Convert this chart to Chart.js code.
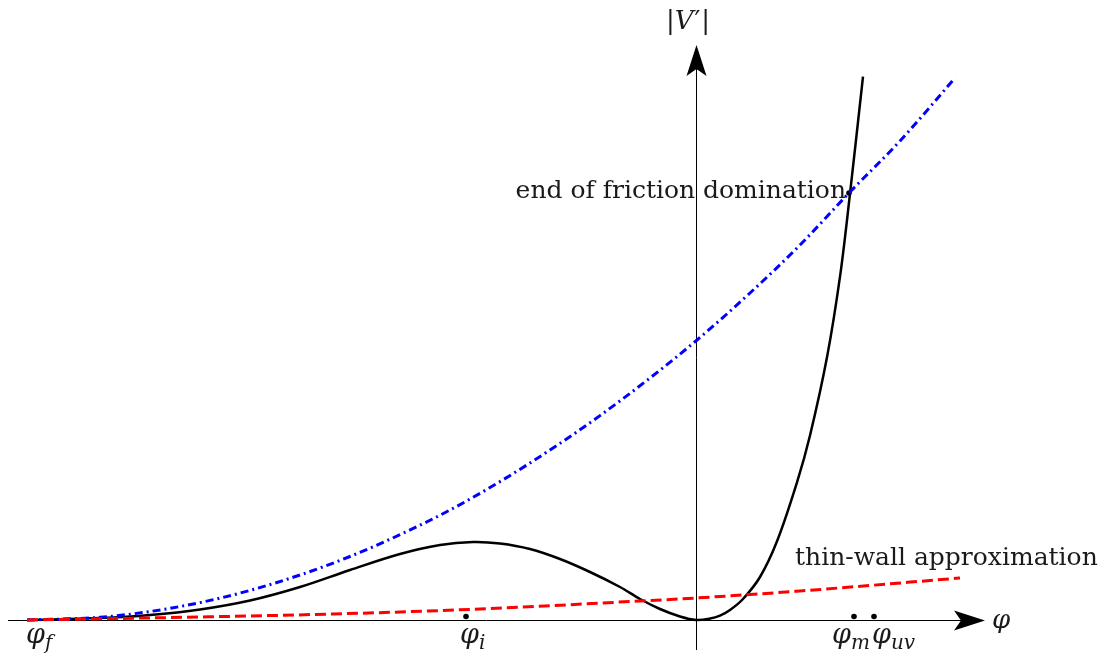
<!DOCTYPE html>
<html>
<head>
<meta charset="utf-8">
<script src="https://cdn.jsdelivr.net/npm/chart.js@4"></script>
<style>
  html, body { margin: 0; padding: 0; background: #fff; }
  #wrap { width: 1109px; height: 653px; position: relative; }
</style>
</head>
<body>
<div id="wrap"><canvas id="c"></canvas></div>
<script>
// ---- data (schematic units: phi horizontal, |V'| vertical) ----
const potPhi = [-6.69, -5.96, -5.46, -4.96, -4.46, -3.96, -3.46, -2.96, -2.56, -2.23, -1.96, -1.66, -1.36, -1.06, -0.76, -0.56, -0.36, -0.16, 0, 0.14, 0.24, 0.34, 0.47, 0.64, 0.81, 1.01, 1.14, 1.31, 1.44, 1.54, 1.67];
const potV   = [0, 0.02, 0.05, 0.105, 0.195, 0.33, 0.50, 0.66, 0.75, 0.78, 0.765, 0.71, 0.61, 0.48, 0.33, 0.21, 0.11, 0.035, 0, 0.014, 0.044, 0.10, 0.21, 0.43, 0.787, 1.377, 1.845, 2.627, 3.433, 4.263, 5.433];

const frictionPhi = [-6.69, -5.96, -5.46, -4.96, -4.46, -3.96, -3.46, -2.96, -2.46, -1.96, -1.46, -0.96, -0.46, 0.01, 0.54, 1.04, 1.53, 2.04, 2.59];
const frictionV   = [0, 0.027, 0.085, 0.174, 0.296, 0.45, 0.635, 0.853, 1.10, 1.384, 1.70, 2.044, 2.42, 2.80, 3.27, 3.75, 4.27, 4.79, 5.42];

const thinPhi = [-6.69, -4.96, -3.63, -2.16, -0.56, 0, 1.04, 2.64];
const thinV   = [0, 0.03, 0.06, 0.11, 0.19, 0.22, 0.29, 0.42];

const markNames = ["φ_f", "φ_i", "φ_m", "φ_uv"];
const markPhi   = [-6.69, -2.30, 1.58, 1.78];
const crossPoint = [1.53, 4.27];

const xRange = [-6.96, 4.13];
const yRange = [-0.33, 6.20];
const xAxisSpan = [-6.88, 2.89];
const yAxisSpan = [-0.30, 5.75];

const zip = (a, b) => a.map((v, i) => ({ x: v, y: b[i] }));

const SERIF = '"DejaVu Serif", "Liberation Serif", serif';

function drawMath(ctx, base, sub, x, y, size) {
  ctx.save();
  ctx.textAlign = 'left';
  ctx.textBaseline = 'alphabetic';
  ctx.font = 'italic ' + size + 'px ' + SERIF;
  ctx.fillText(base, x, y);
  const w = ctx.measureText(base).width;
  if (sub) {
    ctx.font = 'italic ' + Math.round(size * 0.74) + 'px ' + SERIF;
    ctx.fillText(sub, x + w, y + size * 0.22);
  }
  ctx.restore();
}

const schematic = {
  id: 'schematic',
  beforeDatasetsDraw(chart) {
    const { ctx, scales: { x, y } } = chart;
    const x0 = Math.round(x.getPixelForValue(0)) + 0.5, y0 = Math.round(y.getPixelForValue(0)) + 0.5;
    ctx.save();
    ctx.strokeStyle = '#000';
    ctx.fillStyle = '#000';
    ctx.lineWidth = 1;
    const xl = x.getPixelForValue(xAxisSpan[0]), xr = x.getPixelForValue(xAxisSpan[1]);
    ctx.beginPath(); ctx.moveTo(xl, y0); ctx.lineTo(xr - 20, y0); ctx.stroke();
    const yb = y.getPixelForValue(yAxisSpan[0]), yt = y.getPixelForValue(yAxisSpan[1]);
    ctx.beginPath(); ctx.moveTo(x0, yb); ctx.lineTo(x0, yt + 20); ctx.stroke();
    ctx.beginPath();
    ctx.moveTo(xr, y0); ctx.lineTo(xr - 31, y0 - 10); ctx.lineTo(xr - 24, y0); ctx.lineTo(xr - 31, y0 + 10); ctx.closePath();
    ctx.fill();
    ctx.beginPath();
    ctx.moveTo(x0, yt); ctx.lineTo(x0 - 10, yt + 31); ctx.lineTo(x0, yt + 24); ctx.lineTo(x0 + 10, yt + 31); ctx.closePath();
    ctx.fill();
    ctx.restore();
  },
  afterDatasetsDraw(chart) {
    const { ctx, scales: { x, y } } = chart;
    const x0 = x.getPixelForValue(0), y0 = y.getPixelForValue(0);
    ctx.save();
    ctx.fillStyle = '#1a1a1a';
    ctx.textBaseline = 'alphabetic';
    ctx.textAlign = 'left';
    // |V'|
    const up = '26px ' + SERIF, it = 'italic 26px ' + SERIF;
    ctx.font = up; const barW = ctx.measureText('|').width; const prW = ctx.measureText('′').width;
    ctx.font = it; const vW = ctx.measureText('V').width;
    const total = barW * 2 + vW + prW + 2;
    let sx = x0 - 8 - total / 2;
    ctx.font = up; ctx.fillText('|', sx, 29); sx += barW;
    ctx.font = it; ctx.fillText('V', sx, 29); sx += vW + 1;
    ctx.font = up; ctx.fillText('′', sx, 29); sx += prW + 1;
    ctx.fillText('|', sx, 29);
    // phi at end of horizontal axis
    drawMath(ctx, 'φ', '', x.getPixelForValue(xAxisSpan[1]) + 7, y0 + 8, 26);
    // mark labels
    const offs = [-1, -6, -22, -2];
    markNames.forEach((n, i) => {
      const [b, s] = n.split('_');
      drawMath(ctx, b, s, x.getPixelForValue(markPhi[i]) + offs[i], y0 + 23, 27);
    });
    // annotations
    ctx.font = '25px ' + SERIF;
    ctx.textAlign = 'right';
    ctx.fillText('end of friction domination', x.getPixelForValue(crossPoint[0]) - 3, y.getPixelForValue(crossPoint[1]) + 5);
    ctx.textAlign = 'left';
    ctx.fillText('thin-wall approximation', x.getPixelForValue(thinPhi[thinPhi.length - 1]) - 165, y.getPixelForValue(thinV[thinV.length - 1]) - 13);
    ctx.restore();
  }
};

new Chart(document.getElementById('c'), {
  type: 'line',
  data: {
    datasets: [
      {
        label: 'thin-wall',
        data: zip(thinPhi, thinV),
        borderColor: '#ff0000',
        borderWidth: 3,
        borderDash: [11, 5],
        pointRadius: 0,
        cubicInterpolationMode: 'monotone',
        fill: false
      },
      {
        label: 'friction',
        data: zip(frictionPhi, frictionV),
        borderColor: '#0000ff',
        borderWidth: 3,
        borderDash: [8, 4, 2, 4],
        pointRadius: 0,
        cubicInterpolationMode: 'monotone',
        fill: false
      },
      {
        label: 'potential',
        data: zip(potPhi, potV),
        borderColor: '#000000',
        borderWidth: 2.5,
        pointRadius: 0,
        tension: 0.35,
        fill: false
      },
      {
        label: 'marks',
        data: markPhi.slice(1).map(v => ({ x: v, y: 0.035 })).concat([{ x: crossPoint[0], y: crossPoint[1] }]),
        showLine: false,
        pointRadius: 2.8,
        pointBackgroundColor: '#000',
        pointBorderWidth: 0
      }
    ]
  },
  options: {
    responsive: true,
    maintainAspectRatio: false,
    animation: false,
    events: [],
    layout: { padding: 0, autoPadding: false },
    plugins: { legend: { display: false }, tooltip: { enabled: false }, title: { display: false } },
    scales: {
      x: { type: 'linear', min: xRange[0], max: xRange[1], display: false },
      y: { type: 'linear', min: yRange[0], max: yRange[1], display: false }
    },
    elements: { line: { borderCapStyle: 'butt' } }
  },
  plugins: [schematic]
});
</script>
</body>
</html>
